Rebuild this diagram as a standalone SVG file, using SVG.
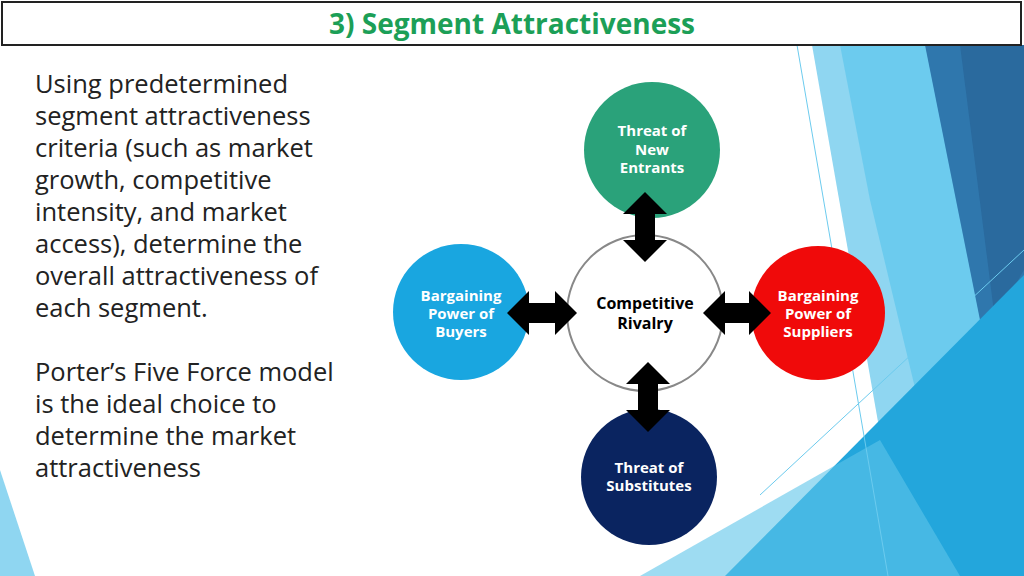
<svg xmlns="http://www.w3.org/2000/svg" width="1024" height="576" viewBox="0 0 1024 576">
<style>
.t{font-family:"Open Sans","DejaVu Sans",sans-serif;font-size:25.5px;fill:#222}
.n{font-family:"Open Sans","DejaVu Sans",sans-serif;font-size:15px;font-weight:bold;fill:#fff;text-anchor:middle}
.a{fill:#000}
</style>
<rect width="1024" height="576" fill="#fff"/>
<g id="bg">
<polygon points="812,45 935,45 1024,330 1024,576 905,576" fill="#8fd6f1"/>
<polygon points="840,45 935,45 1024,330 1024,576 960,576 870,200" fill="#6ccbee"/>
<polygon points="925,45 1024,45 1024,300 985,345" fill="#2f77ad"/>
<polygon points="960,45 1024,45 1024,270 995,320" fill="#2a6a9e"/>
<polygon points="725,576 1024,275 1024,576" fill="#23a6dc"/>
<polygon points="640,576 880,440 960,576" fill="#5ec4ea" opacity="0.6"/>
<polygon points="0,470 35,576 0,576" fill="#8fd6f1"/>
<line x1="797" y1="45" x2="888" y2="576" stroke="#6ccbee" stroke-width="1"/>
<line x1="760" y1="495" x2="1024" y2="250" stroke="#6ccbee" stroke-width="1"/>
</g>
<g id="title">
<rect x="2" y="2" width="1019" height="43" fill="#fff" stroke="#222" stroke-width="2"/>
<text x="512" y="34" text-anchor="middle" font-family="'Open Sans','DejaVu Sans',sans-serif" font-size="28" font-weight="bold" fill="#1c9f57">3) Segment Attractiveness</text>
</g>
<g id="body" class="t">
<text x="35" y="93">Using predetermined</text>
<text x="35" y="125">segment attractiveness</text>
<text x="35" y="157">criteria (such as market</text>
<text x="35" y="189">growth, competitive</text>
<text x="35" y="221">intensity, and market</text>
<text x="35" y="253">access), determine the</text>
<text x="35" y="285">overall attractiveness of</text>
<text x="35" y="317">each segment.</text>
<text x="35" y="381">Porter’s Five Force model</text>
<text x="35" y="413">is the ideal choice to</text>
<text x="35" y="445">determine the market</text>
<text x="35" y="477">attractiveness</text>
</g>
<g id="rivalry"><circle cx="645" cy="313" r="78" fill="#fff" stroke="#888" stroke-width="2"/>
<text class="n" style="fill:#000;font-size:16px" x="645" y="309">Competitive</text><text class="n" style="fill:#000;font-size:16px" x="645" y="329">Rivalry</text></g>
<g id="entrants"><circle cx="652" cy="150" r="68" fill="#2aa27a"/>
<text class="n" x="652" y="136">Threat of</text><text class="n" x="652" y="155">New</text><text class="n" x="652" y="173">Entrants</text></g>
<g id="buyers"><circle cx="461" cy="312" r="68" fill="#19a6e0"/>
<text class="n" x="461" y="301">Bargaining</text><text class="n" x="461" y="319">Power of</text><text class="n" x="461" y="337">Buyers</text></g>
<g id="suppliers"><circle cx="818" cy="313" r="67" fill="#f00a0a"/>
<text class="n" x="818" y="301">Bargaining</text><text class="n" x="818" y="319">Power of</text><text class="n" x="818" y="337">Suppliers</text></g>
<g id="substitutes"><circle cx="649" cy="477" r="68" fill="#0a2460"/>
<text class="n" x="649" y="473">Threat of</text><text class="n" x="649" y="491">Substitutes</text></g>
<g id="connectors" class="a">
<polygon points="645,192 667,214 655,214 655,240 667,240 645,262 623,240 635,240 635,214 623,214"/>
<polygon points="648,362 670,384 658,384 658,410 670,410 648,432 626,410 638,410 638,384 626,384"/>
<polygon points="507,313 529,291 529,303 555,303 555,291 577,313 555,335 555,323 529,323 529,335"/>
<polygon points="703,313 725,291 725,303 749,303 749,291 771,313 749,335 749,323 725,323 725,335"/>
</g>
</svg>
